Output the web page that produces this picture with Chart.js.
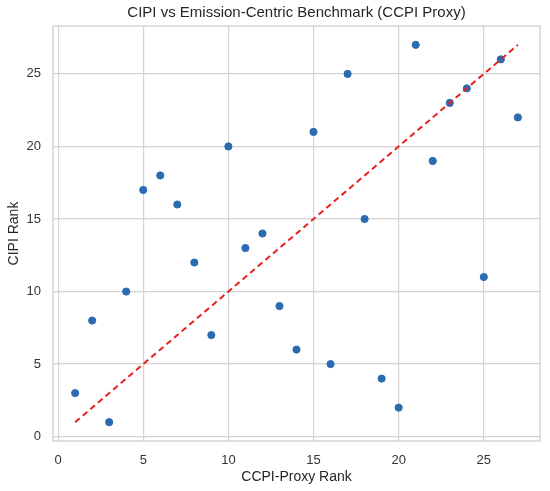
<!DOCTYPE html>
<html>
<head>
<meta charset="utf-8">
<script src="https://cdn.jsdelivr.net/npm/chart.js@4"></script>
<style>
  html, body { margin: 0; padding: 0; background: #fff; }
  #wrap { width: 550px; height: 491px; }
</style>
</head>
<body>
<div id="wrap"><canvas id="rankChart"></canvas></div>
<script>
const ccpiRank = [1, 2, 3, 4, 5, 6, 7, 8, 9, 10, 11, 12, 13, 14, 15, 16, 17, 18, 19, 20, 21, 22, 23, 24, 25, 26, 27];
const cipiRank = [3, 8, 1, 10, 17, 18, 16, 12, 7, 20, 13, 14, 9, 6, 21, 5, 25, 15, 4, 2, 27, 19, 23, 24, 11, 26, 22];
const diagonal = [1, 27];
const tickValues = [0, 5, 10, 15, 20, 25];
const chartTitle = 'CIPI vs Emission-Centric Benchmark (CCPI Proxy)';

const font = '"Liberation Sans", Arial, sans-serif';

// frame on all four sides + title centred over the plot area (like matplotlib)
const frame = {
  id: 'frame',
  afterDraw(chart) {
    const { ctx, chartArea: a } = chart;
    ctx.save();
    ctx.strokeStyle = '#cccccc';
    ctx.lineWidth = 1.2;
    ctx.strokeRect(a.left, a.top, a.right - a.left, a.bottom - a.top);
    ctx.fillStyle = '#262626';
    ctx.font = '15px ' + font;
    ctx.textAlign = 'center';
    ctx.textBaseline = 'middle';
    ctx.fillText(chartTitle, (a.left + a.right) / 2, a.top - 13);
    ctx.restore();
  }
};

const fixedTicks = (scale) => {
  scale.ticks = tickValues.map(v => ({ value: v }));
};

new Chart(document.getElementById('rankChart'), {
  type: 'scatter',
  data: {
    datasets: [
      {
        data: ccpiRank.map((x, i) => ({ x, y: cipiRank[i] })),
        backgroundColor: '#2b6cb0',
        borderColor: '#2b6cb0',
        pointRadius: 3.6,
        pointHoverRadius: 3.6,
        order: 2
      },
      {
        type: 'line',
        data: diagonal.map(v => ({ x: v, y: v })),
        borderColor: '#e8201c',
        borderWidth: 2,
        borderDash: [6, 4],
        pointRadius: 0,
        fill: false,
        order: 1
      }
    ]
  },
  options: {
    responsive: true,
    maintainAspectRatio: false,
    animation: false,
    layout: { padding: { left: 0, right: 10, top: 26, bottom: 0 } },
    plugins: {
      legend: { display: false },
      tooltip: { enabled: false },
      title: { display: false }
    },
    scales: {
      x: {
        type: 'linear',
        min: -0.3,
        max: 28.3,
        afterBuildTicks: fixedTicks,
        afterFit: (s) => { s.height = 50; },
        grid: { color: '#d4d4d4', lineWidth: 1.2, drawTicks: false },
        border: { display: false },
        ticks: { color: '#333', font: { family: font, size: 13 }, padding: 12 },
        title: {
          display: true,
          text: 'CCPI-Proxy Rank',
          color: '#262626',
          font: { family: font, size: 14 },
          padding: { top: 2, bottom: 5 }
        }
      },
      y: {
        type: 'linear',
        min: -0.3,
        max: 28.3,
        afterBuildTicks: fixedTicks,
        afterFit: (s) => { s.width = 53; },
        grid: { color: '#d4d4d4', lineWidth: 1.2, drawTicks: false },
        border: { display: false },
        ticks: { color: '#333', font: { family: font, size: 13 }, padding: 12 },
        title: {
          display: true,
          text: 'CIPI Rank',
          color: '#262626',
          font: { family: font, size: 14 },
          padding: { top: 6, bottom: 0 }
        }
      }
    }
  },
  plugins: [frame]
});
</script>
</body>
</html>
